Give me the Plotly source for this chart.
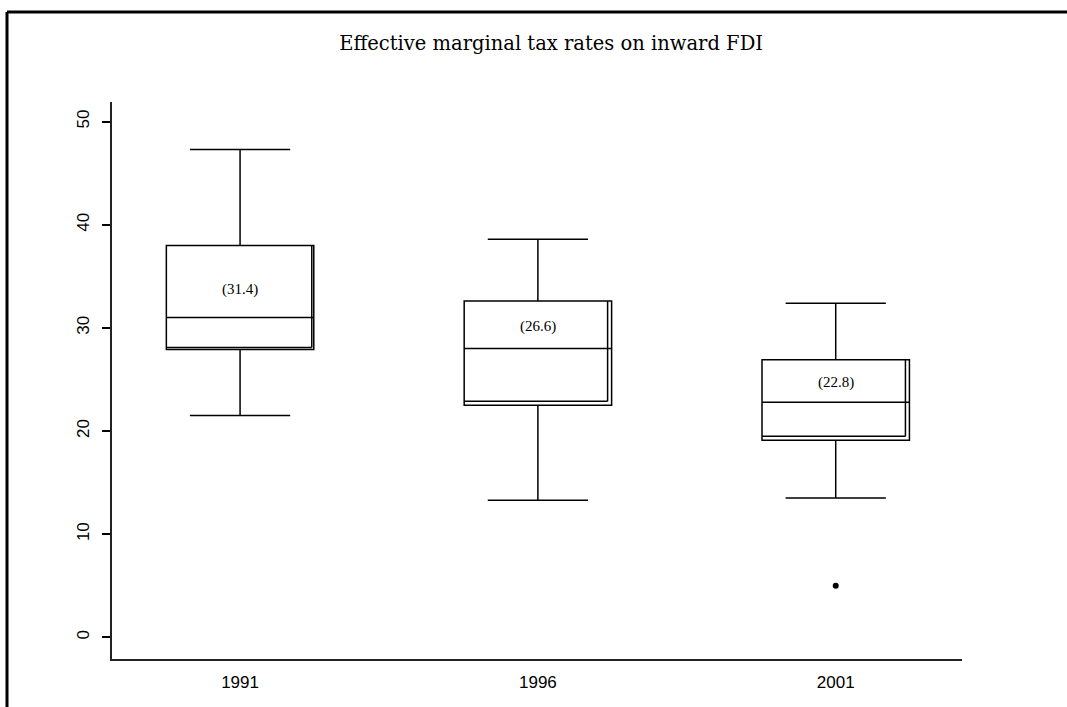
import plotly.graph_objects as go

years = ["1991", "1996", "2001"]
lower_whisker = [21.5, 13.3, 13.5]
q1 = [27.9, 22.5, 19.1]
median = [31.0, 28.0, 22.8]
q3 = [38.0, 32.6, 26.9]
upper_whisker = [47.3, 38.6, 32.4]
means = [31.4, 26.6, 22.8]
mean_label_y = [33.7, 30.1, 24.7]
outlier_year = ["2001"]
outlier_value = [5.0]

xpos = list(range(len(years)))
pos_of = {y: i for i, y in enumerate(years)}

BOX_W = 0.495
X_RANGE = [-0.43, 2.424]
Y_RANGE = [-2.1, 51.9]

W, H = 1067, 707
L, R, T, B = 112, 105, 102, 48
pw, ph = W - L - R, H - T - B
def px(x): return (x - L) / pw
def py(y): return (H - B - y) / ph
dx_per_px = (X_RANGE[1] - X_RANGE[0]) / pw
dy_per_px = (Y_RANGE[1] - Y_RANGE[0]) / ph

fig = go.Figure()
fig.add_trace(go.Box(
    x=xpos, q1=q1, median=median, q3=q3,
    lowerfence=lower_whisker, upperfence=upper_whisker,
    width=BOX_W, whiskerwidth=0.68,
    fillcolor="white", line=dict(color="black", width=1.5),
    boxpoints=False, showlegend=False, hoverinfo="skip",
))
fig.add_trace(go.Scatter(
    x=[pos_of[y] for y in outlier_year], y=outlier_value, mode="markers",
    marker=dict(color="black", size=6), showlegend=False, hoverinfo="skip",
))

# shadow / double edge along right and bottom of each box
shadow_px = [2, 4, 4]
for i in xpos:
    off = shadow_px[i]
    xr = i + BOX_W / 2 - off * dx_per_px
    xl = i - BOX_W / 2
    yb = q1[i] + off * dy_per_px
    fig.add_shape(type="line", x0=xr, x1=xr, y0=yb, y1=q3[i], line=dict(color="black", width=1.5))
    fig.add_shape(type="line", x0=xl, x1=xr, y0=yb, y1=yb, line=dict(color="black", width=1.5))

for i, (m, ly) in enumerate(zip(means, mean_label_y)):
    fig.add_annotation(x=i, y=ly, text=f"({m:.1f})", showarrow=False,
                       font=dict(family="Liberation Serif, Times New Roman, serif", size=15, color="black"))

# outer frame (top and left edges visible)
fig.add_shape(type="line", xref="paper", yref="paper", x0=px(7), x1=px(1067), y0=py(12), y1=py(12),
              line=dict(color="black", width=3))
fig.add_shape(type="line", xref="paper", yref="paper", x0=px(7), x1=px(7), y0=py(12), y1=py(707),
              line=dict(color="black", width=3))

fig.update_layout(
    width=W, height=H,
    margin=dict(l=L, r=R, t=T, b=B),
    paper_bgcolor="white", plot_bgcolor="white",
    title=dict(text="Effective marginal tax rates on inward FDI", x=px(551), xanchor="center",
               y=1 - 43 / H, yanchor="middle",
               font=dict(family="DejaVu Serif, serif", size=19.5, color="black")),
    xaxis=dict(range=X_RANGE, tickvals=xpos, ticktext=years, showgrid=False, zeroline=False,
               showline=True, linecolor="#222", linewidth=2, ticks="", ticklabelstandoff=7,
               tickfont=dict(family="Liberation Sans, Arial, sans-serif", size=17, color="black")),
    yaxis=dict(range=Y_RANGE, tickvals=[0, 10, 20, 30, 40, 50], showgrid=False, zeroline=False,
               showline=True, linecolor="#222", linewidth=2, ticks="outside", ticklen=8,
               tickcolor="black", tickwidth=1.5, tickangle=-90, ticklabelstandoff=6,
               tickfont=dict(family="Liberation Sans, Arial, sans-serif", size=17, color="black")),
)

fig.write_html("out.html")
